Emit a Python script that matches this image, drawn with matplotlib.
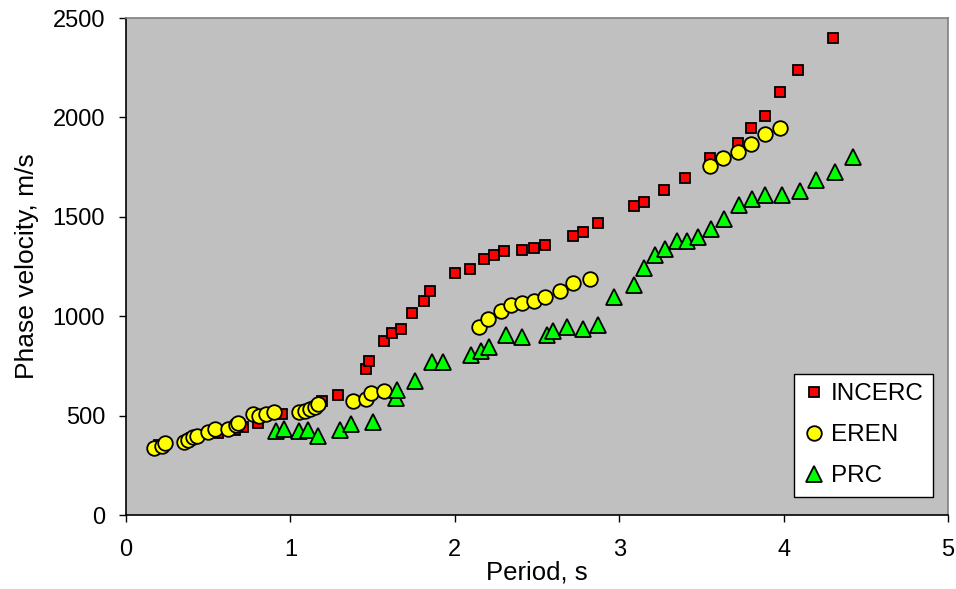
import numpy as np
import matplotlib.pyplot as plt

plt.rcParams['font.family'] = ['Liberation Sans', 'DejaVu Sans']

# INCERC
incerc_t = [0.20, 0.40, 0.56, 0.66, 0.71, 0.80, 0.95, 1.10, 1.19, 1.29,
            1.46, 1.48, 1.57, 1.62, 1.67, 1.74, 1.81, 1.85, 2.00, 2.09,
            2.18, 2.24, 2.30, 2.41, 2.48, 2.55, 2.72, 2.78, 2.87, 3.09,
            3.15, 3.27, 3.40, 3.55, 3.72, 3.80, 3.89, 3.98, 4.09, 4.30]
incerc_v = [350, 385, 411, 428, 441, 461, 507, 530, 575, 605,
            736, 776, 875, 917, 936, 1015, 1075, 1125, 1216, 1236,
            1286, 1306, 1326, 1335, 1345, 1357, 1405, 1425, 1467, 1556,
            1576, 1636, 1697, 1794, 1870, 1948, 2007, 2126, 2237, 2398]

# EREN
eren_t = [0.17, 0.22, 0.24, 0.35, 0.38, 0.41, 0.43, 0.50, 0.54, 0.62,
          0.67, 0.68, 0.77, 0.81, 0.85, 0.90, 1.05, 1.09, 1.12, 1.15,
          1.17, 1.38, 1.46, 1.49, 1.57, 2.15, 2.20, 2.28, 2.34, 2.41,
          2.48, 2.55, 2.64, 2.72, 2.82, 3.55, 3.63, 3.72, 3.80, 3.89,
          3.98]
eren_v = [335, 347, 361, 366, 377, 391, 397, 416, 433, 433,
          453, 464, 507, 498, 507, 517, 517, 525, 533, 545,
          558, 575, 583, 612, 625, 947, 988, 1026, 1056, 1068,
          1076, 1095, 1125, 1165, 1186, 1755, 1798, 1824, 1866, 1916,
          1948]

# PRC
prc_t = [0.91, 0.96, 1.05, 1.11, 1.17, 1.30, 1.37, 1.50, 1.64, 1.65,
         1.76, 1.86, 1.93, 2.10, 2.16, 2.21, 2.31, 2.41, 2.56, 2.60,
         2.68, 2.78, 2.87, 2.97, 3.09, 3.15, 3.22, 3.28, 3.35, 3.41,
         3.48, 3.56, 3.64, 3.73, 3.81, 3.89, 3.99, 4.10, 4.20, 4.31,
         4.42]
prc_v = [424, 433, 424, 428, 397, 428, 458, 468, 587, 629,
         676, 768, 768, 805, 826, 847, 905, 897, 905, 927,
         947, 937, 956, 1098, 1155, 1244, 1308, 1338, 1378, 1378,
         1397, 1437, 1487, 1558, 1588, 1610, 1610, 1630, 1685, 1727,
         1799]

fig = plt.figure(figsize=(9.56, 5.89), dpi=100)
ax = fig.add_axes([0.1318, 0.1256, 0.8598, 0.8438])
ax.set_facecolor('#C0C0C0')

ax.plot(incerc_t, incerc_v, 's', ms=7.5, mfc='#FF0000', mec='black', mew=1.3, label='INCERC')
ax.plot(eren_t, eren_v, 'o', ms=10.5, mfc='#FFFF00', mec='black', mew=1.3, label='EREN')
ax.plot(prc_t, prc_v, '^', ms=12, mfc='#00FF00', mec='black', mew=1.3, label='PRC')

ax.set_xlim(0, 5)
ax.set_ylim(0, 2500)
ax.set_xticks(range(0, 6))
ax.set_yticks(range(0, 2501, 500))
ax.tick_params(direction='out', length=5, width=1, labelsize=17)
ax.tick_params(axis='x', pad=12)
ax.tick_params(axis='y', pad=10)
for s in ['left', 'bottom']:
    ax.spines[s].set_color('black')
    ax.spines[s].set_linewidth(1.2)
for s in ['top', 'right']:
    ax.spines[s].set_color('#808080')
    ax.spines[s].set_linewidth(1.2)

ax.set_xlabel('Period, s', fontsize=18.5, labelpad=0)
ax.set_ylabel('Phase velocity, m/s', fontsize=19, labelpad=10)

leg = ax.legend(loc='lower right', bbox_to_anchor=(0.982, 0.036), borderaxespad=0,
                fancybox=False, framealpha=1, edgecolor='black', fontsize=17.5,
                handletextpad=0.25, handlelength=0.85, labelspacing=0.78, borderpad=0.4)
leg.get_frame().set_linewidth(1.0)

fig.savefig('out.png', dpi=100)
